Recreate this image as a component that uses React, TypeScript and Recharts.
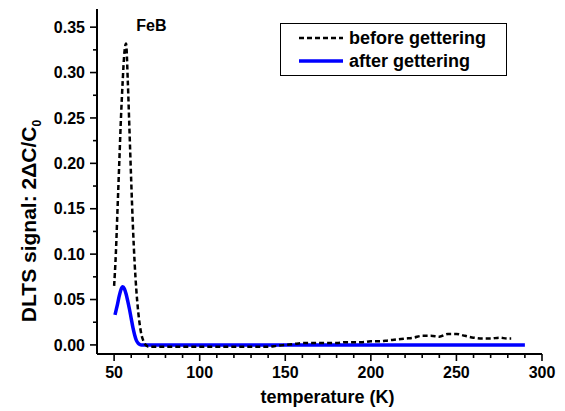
import { LineChart, Line, XAxis, YAxis, Legend, ReferenceDot } from 'recharts';

// DLTS spectra, signal 2ΔC/C0 vs temperature (K)
const beforeT = [
  50, 51, 52, 53, 54, 55, 56, 57, 58, 59, 60, 61, 62, 63, 64, 65, 66, 67, 68, 69,
  70, 75, 80, 85, 90, 95, 100, 105, 110, 115, 120, 125, 130, 135, 140, 145,
  150, 155, 160, 165, 170, 175, 180, 185, 190, 195, 200, 205, 210, 215, 220,
  225, 230, 235, 240, 245, 250, 255, 260, 265, 270, 275, 280, 282,
];
const beforeSignal = [
  0.065, 0.1, 0.15, 0.2, 0.25, 0.29, 0.322, 0.332, 0.29, 0.235, 0.18, 0.13, 0.09, 0.06, 0.038, 0.022, 0.011, 0.005, 0.001, -0.001,
  -0.002, -0.002, -0.002, -0.002, -0.002, -0.002, -0.002, -0.002, -0.002, -0.002, -0.002, -0.002, -0.002, -0.002, -0.002, -0.001,
  0.0, 0.001, 0.002, 0.002, 0.002, 0.002, 0.002, 0.003, 0.003, 0.003, 0.004, 0.004, 0.005, 0.006, 0.007,
  0.008, 0.01, 0.01, 0.009, 0.012, 0.012, 0.01, 0.008, 0.007, 0.007, 0.008, 0.007, 0.007,
];
const afterT = [
  50.5, 51, 52, 53, 54, 55, 56, 57, 58, 59, 60, 61, 62, 63, 64, 65, 66, 70, 100, 150, 200, 250, 290,
];
const afterSignal = [
  0.033, 0.037, 0.045, 0.054, 0.061, 0.064, 0.062, 0.056, 0.048, 0.039, 0.029, 0.019, 0.011, 0.005, 0.002, 0.0005, 0, 0, 0, 0, 0, 0, 0,
];

const seriesNames = ['before gettering', 'after gettering'];
const peakLabel = 'FeB';

const xMajorTicks = [50, 100, 150, 200, 250, 300];
const xMinorTicks = [60, 70, 80, 90, 110, 120, 130, 140, 160, 170, 180, 190, 210, 220, 230, 240, 260, 270, 280, 290];
const yMajorTicks = [0, 0.05, 0.1, 0.15, 0.2, 0.25, 0.3, 0.35];
const yMinorTicks = [0.025, 0.075, 0.125, 0.175, 0.225, 0.275, 0.325];

const beforeData = beforeT.map((T, i) => ({ T, v: beforeSignal[i] }));
const afterData = afterT.map((T, i) => ({ T, v: afterSignal[i] }));
const xTicks = [...xMajorTicks, ...xMinorTicks].sort((a, b) => a - b);
const yTicks = [...yMajorTicks, ...yMinorTicks].sort((a, b) => a - b);

const FONT = '"Liberation Sans", Arial, Helvetica, sans-serif';
const W = 565;
const H = 411;
const PLOT_LEFT = 97;
const PLOT_TOP = 9;
const PLOT_RIGHT = 542;
const PLOT_BOTTOM = 354;

const MAJOR = 7;
const MINOR = 4;

function BottomTick({ x, y, payload }: any) {
  const major = xMajorTicks.includes(payload.value);
  return (
    <g>
      <line x1={x} y1={y} x2={x} y2={y + (major ? MAJOR : MINOR)} stroke="#000" strokeWidth={1.6} />
      {major && (
        <text x={x} y={y + 24} textAnchor="middle" fontSize={16} fontWeight="bold" fontFamily={FONT} fill="#000">
          {payload.value}
        </text>
      )}
    </g>
  );
}

function TopTick({ x, y, payload }: any) {
  const major = xMajorTicks.includes(payload.value);
  return <line x1={x} y1={y} x2={x} y2={y + (major ? MAJOR : MINOR)} stroke="#000" strokeWidth={1.6} />;
}

function LeftTick({ x, y, payload }: any) {
  const major = yMajorTicks.includes(payload.value);
  return (
    <g>
      <line x1={x} y1={y} x2={x - (major ? MAJOR : MINOR)} y2={y} stroke="#000" strokeWidth={1.6} />
      {major && (
        <text x={x - 12} y={y} dy="0.36em" textAnchor="end" fontSize={16} fontWeight="bold" fontFamily={FONT} fill="#000">
          {payload.value.toFixed(2)}
        </text>
      )}
    </g>
  );
}

function RightTick({ x, y, payload }: any) {
  const major = yMajorTicks.includes(payload.value);
  return <line x1={x} y1={y} x2={x - (major ? MAJOR : MINOR)} y2={y} stroke="#000" strokeWidth={1.6} />;
}

function XTitle() {
  return (
    <text x={(PLOT_LEFT + PLOT_RIGHT) / 2 + 8} y={403} textAnchor="middle" fontSize={18} fontWeight="bold" fontFamily={FONT} fill="#000">
      temperature (K)
    </text>
  );
}

function YTitle() {
  const cx = 36;
  const cy = 221;
  return (
    <text x={cx} y={cy} transform={`rotate(-90, ${cx}, ${cy})`} textAnchor="middle" fontSize={21} fontWeight="bold" fontFamily={FONT} fill="#000">
      DLTS signal: 2ΔC/C
      <tspan fontSize={12} dy={5}>0</tspan>
    </text>
  );
}

function LegendBox() {
  const row = (dash: boolean, color: string, label: string, top: number) => (
    <div style={{ position: 'absolute', left: 17, top, height: 20, display: 'flex', alignItems: 'center' }}>
      <svg width={46} height={6} style={{ display: 'block' }}>
        <line x1={1} y1={3} x2={45} y2={3} stroke={color} strokeWidth={dash ? 2.5 : 3.5} strokeDasharray={dash ? '5 3' : undefined} />
      </svg>
      <span style={{ marginLeft: 5, lineHeight: '20px' }}>{label}</span>
    </div>
  );
  return (
    <div
      style={{
        position: 'relative',
        width: 227,
        height: 53,
        border: '1.2px solid #000',
        boxSizing: 'border-box',
        background: '#fff',
        fontFamily: FONT,
        fontWeight: 'bold',
        fontSize: 18,
        color: '#000',
      }}
    >
      {row(true, '#000', seriesNames[0], 4)}
      {row(false, '#0000ff', seriesNames[1], 27)}
    </div>
  );
}

export default function App() {
  return (
    <div style={{ position: 'absolute', left: 0, top: 0, width: W, height: H, background: '#fff' }}>
      <LineChart
        width={W}
        height={H}
        margin={{ top: PLOT_TOP, right: W - PLOT_RIGHT, bottom: 0, left: 0 }}
      >
        <XAxis
          dataKey="T"
          type="number"
          domain={[40, 300]}
          allowDataOverflow
          ticks={xTicks}
          interval={0}
          tick={<BottomTick />}
          tickLine={false}
          tickSize={0}
          tickMargin={0}
          height={H - PLOT_BOTTOM}
          axisLine={{ stroke: '#000', strokeWidth: 2 }}
          label={<XTitle />}
        />
        <XAxis
          xAxisId="top"
          orientation="top"
          type="number"
          domain={[40, 300]}
          allowDataOverflow
          ticks={xTicks}
          interval={0}
          tick={<TopTick />}
          tickLine={false}
          tickSize={0}
          tickMargin={0}
          height={0}
          axisLine={{ stroke: '#000', strokeWidth: 2 }}
        />
        <YAxis
          type="number"
          domain={[-0.01, 0.37]}
          allowDataOverflow
          ticks={yTicks}
          interval={0}
          tick={<LeftTick />}
          tickLine={false}
          tickSize={0}
          tickMargin={0}
          width={PLOT_LEFT}
          axisLine={{ stroke: '#000', strokeWidth: 2 }}
          label={<YTitle />}
        />
        <YAxis
          yAxisId="right"
          orientation="right"
          type="number"
          domain={[-0.01, 0.37]}
          allowDataOverflow
          ticks={yTicks}
          interval={0}
          tick={<RightTick />}
          tickLine={false}
          tickSize={0}
          tickMargin={0}
          width={0}
          axisLine={{ stroke: '#000', strokeWidth: 2 }}
        />
        <Legend
          layout="vertical"
          align="center"
          verticalAlign="middle"
          wrapperStyle={{ left: 280, top: 23, width: 227, height: 53 }}
          content={<LegendBox />}
        />
        <ReferenceDot
          x={71.8}
          y={0.352}
          r={0}
          fill="none"
          stroke="none"
          label={{ value: peakLabel, position: 'center', fontSize: 16, fontWeight: 'bold', fontFamily: FONT, fill: '#000' }}
        />
        <Line
          data={afterData}
          dataKey="v"
          name={seriesNames[1]}
          type="monotone"
          stroke="#0000ff"
          strokeWidth={3.5}
          dot={false}
          activeDot={false}
          isAnimationActive={false}
        />
        <Line
          data={beforeData}
          dataKey="v"
          name={seriesNames[0]}
          type="monotone"
          stroke="#000"
          strokeWidth={2.5}
          strokeDasharray="5 3"
          dot={false}
          activeDot={false}
          isAnimationActive={false}
        />
      </LineChart>
    </div>
  );
}
